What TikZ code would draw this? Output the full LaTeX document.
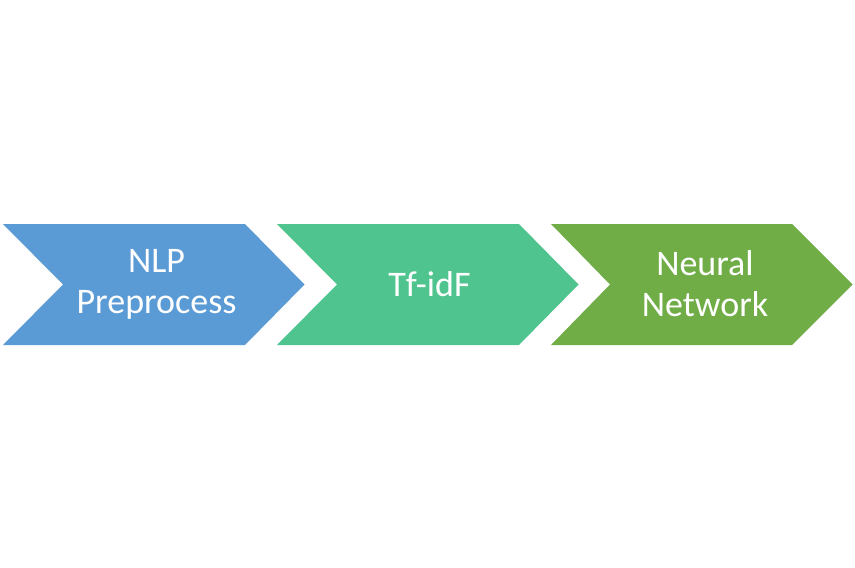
\documentclass[tikz,border=0pt]{standalone}
\usepackage{fontspec}
\setmainfont{Carlito}
\definecolor{cblue}{HTML}{5B9BD5}
\definecolor{cteal}{HTML}{50C48E}
\definecolor{cgreen}{HTML}{70AD47}
\begin{document}
\begin{tikzpicture}[x=1pt,y=-1pt,
  lbl/.style={text=white,align=center,font=\fontsize{36}{41}\selectfont,inner sep=0pt}]
\useasboundingbox (0,0) rectangle (855,568);
\fill[white] (0,0) rectangle (855,568);
\fill[cblue] (3,224) -- (245,224) -- (304.5,284.5) -- (245,345) -- (3,345) -- (63,284.5) -- cycle;
\fill[cteal] (277,224) -- (519,224) -- (578.5,284.5) -- (519,345) -- (277,345) -- (337,284.5) -- cycle;
\fill[cgreen] (551,224) -- (792,224) -- (852.5,284.5) -- (792,345) -- (551,345) -- (610,284.5) -- cycle;
\node[lbl] (a) at (156.5,284) {NLP\\Preprocess};
\node[lbl] (b) at (429.5,284) {Tf-idF};
\node[lbl] (c) at (705,284) {Neural\\Network};
\end{tikzpicture}
\end{document}
